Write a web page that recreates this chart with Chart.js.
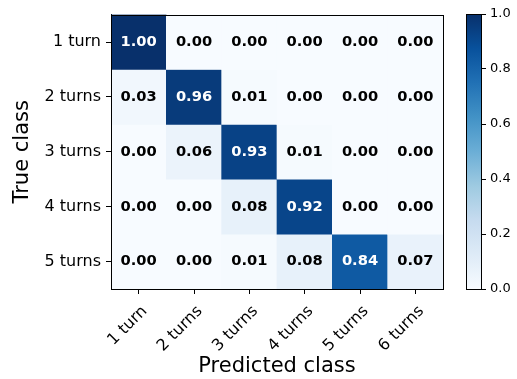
<!DOCTYPE html>
<html>
<head>
<meta charset="utf-8">
<script src="https://cdn.jsdelivr.net/npm/chart.js@4.4.0/dist/chart.umd.min.js"></script>
<style>
  body { margin: 0; background: #fff; }
  #wrap { position: relative; width: 517px; height: 379px; }
  #main { position: absolute; left: 0; top: 0; }
  #cbar { position: absolute; left: 446px; top: 0; }
</style>
</head>
<body>
<div id="wrap">
  <canvas id="main" width="517" height="379"></canvas>
  <canvas id="cbar" width="71" height="379"></canvas>
</div>
<script>
const trueLabels = ["1 turn", "2 turns", "3 turns", "4 turns", "5 turns"];
const predLabels = ["1 turn", "2 turns", "3 turns", "4 turns", "5 turns", "6 turns"];

const row1 = [1.00, 0.00, 0.00, 0.00, 0.00, 0.00];
const row2 = [0.03, 0.96, 0.01, 0.00, 0.00, 0.00];
const row3 = [0.00, 0.06, 0.93, 0.01, 0.00, 0.00];
const row4 = [0.00, 0.00, 0.08, 0.92, 0.00, 0.00];
const row5 = [0.00, 0.00, 0.01, 0.08, 0.84, 0.07];
const rows = [row1, row2, row3, row4, row5];

const colorbarTicks = [0, 0.2, 0.4, 0.6, 0.8, 1.0];

// matplotlib "Blues"
const bluesStops = ["#f7fbff", "#deebf7", "#c6dbef", "#9ecae1", "#6baed6", "#4292c6", "#2171b5", "#08519c", "#08306b"];

const hexToRgb = (h) => [1, 3, 5].map((i) => parseInt(h.slice(i, i + 2), 16));

const blues = (v) => {
    const t = Math.max(0, Math.min(1, v)) * (bluesStops.length - 1);
    const i = Math.min(Math.floor(t), bluesStops.length - 2);
    const f = t - i;
    const a = hexToRgb(bluesStops[i]);
    const b = hexToRgb(bluesStops[i + 1]);
    const c = a.map((x, k) => Math.round(x + (b[k] - x) * f));
    return `rgb(${c[0]}, ${c[1]}, ${c[2]})`;
};

const FONT = "'DejaVu Sans', sans-serif";

const cellText = {
    id: "cellText",
    afterDatasetsDraw(chart) {
        const { ctx, scales: { x, y } } = chart;
        ctx.save();
        ctx.font = `bold 14.7px ${FONT}`;
        ctx.textAlign = "center";
        ctx.textBaseline = "middle";
        rows.forEach((row, r) => {
            row.forEach((v, c) => {
                ctx.fillStyle = v > 0.5 ? "#fff" : "#000";
                ctx.fillText(v.toFixed(2), x.getPixelForValue(c), y.getPixelForValue(r + 0.5));
            });
        });
        ctx.restore();
    },
    afterDraw(chart) {
        const { ctx, chartArea: a } = chart;
        ctx.save();
        ctx.strokeStyle = "#000";
        ctx.lineWidth = 1;
        ctx.strokeRect(Math.round(a.left) + 0.5, Math.round(a.top) + 0.5, Math.round(a.right - a.left), Math.round(a.bottom - a.top));
        ctx.restore();
    }
};

new Chart(document.getElementById("main"), {
    type: "bar",
    data: {
        labels: predLabels,
        datasets: rows.map((row, r) => ({
            label: trueLabels[r],
            data: row.map(() => [r, r + 1]),
            backgroundColor: row.map(blues),
            borderWidth: 0,
            grouped: false,
            barPercentage: 1,
            categoryPercentage: 1,
        })),
    },
    options: {
        responsive: false,
        animation: false,
        devicePixelRatio: 1,
        layout: { padding: { left: 0, top: 14, right: 74, bottom: 0 } },
        plugins: { legend: { display: false }, tooltip: { enabled: false } },
        scales: {
            x: {
                grid: { drawOnChartArea: false, drawTicks: true, tickLength: 5, color: "#000", offset: false },
                border: { display: true, color: "#000" },
                ticks: { color: "#000", font: { family: FONT, size: 16 }, minRotation: 45, maxRotation: 45, autoSkip: false, padding: 8, labelOffset: 6 },
                title: { display: true, text: "Predicted class", color: "#000", font: { family: FONT, size: 21 }, padding: { top: 0, bottom: 0 } },
                afterFit: (scale) => { scale.height = 90; },
            },
            y: {
                type: "linear",
                min: 0,
                max: 5,
                reverse: true,
                grid: { drawOnChartArea: false, drawTicks: true, tickLength: 5, color: "#000" },
                border: { display: true, color: "#000" },
                afterBuildTicks: (scale) => {
                    scale.ticks = trueLabels.map((_, i) => ({ value: i + 0.5 }));
                },
                ticks: {
                    color: "#000",
                    font: { family: FONT, size: 16 },
                    padding: 5,
                    callback: (v) => trueLabels[Math.floor(v)],
                },
                title: { display: true, text: "True class", color: "#000", font: { family: FONT, size: 21 }, padding: { top: 10, bottom: 0 } },
                afterFit: (scale) => { scale.width = 111; },
            },
        },
    },
    plugins: [cellText],
});

// colorbar
new Chart(document.getElementById("cbar"), {
    type: "bar",
    data: {
        labels: [""],
        datasets: [{
            data: [[0, 1]],
            backgroundColor: (c) => {
                const area = c.chart.chartArea;
                if (!area) return bluesStops[4];
                const g = c.chart.ctx.createLinearGradient(0, area.bottom, 0, area.top);
                bluesStops.forEach((col, i) => g.addColorStop(i / (bluesStops.length - 1), col));
                return g;
            },
            borderWidth: 0,
            barPercentage: 1,
            categoryPercentage: 1,
        }],
    },
    options: {
        responsive: false,
        animation: false,
        devicePixelRatio: 1,
        layout: { padding: { left: 20, top: 14, right: 0, bottom: 90 } },
        plugins: { legend: { display: false }, tooltip: { enabled: false } },
        scales: {
            x: { display: false },
            y: {
                position: "right",
                min: 0,
                max: 1,
                grid: { drawOnChartArea: false, drawTicks: true, tickLength: 5, color: "#000" },
                border: { display: true, color: "#000" },
                afterBuildTicks: (scale) => {
                    scale.ticks = colorbarTicks.map((v) => ({ value: v }));
                },
                ticks: { color: "#000", font: { family: FONT, size: 13 }, padding: 4, callback: (v) => v.toFixed(1) },
                afterFit: (scale) => { scale.width = 36; },
            },
        },
    },
    plugins: [{
        id: "outline",
        afterDraw(chart) {
            const { ctx, chartArea: a } = chart;
            ctx.save();
            ctx.strokeStyle = "#000";
            ctx.lineWidth = 1;
            ctx.strokeRect(Math.round(a.left) + 0.5, Math.round(a.top) + 0.5, Math.round(a.right - a.left), Math.round(a.bottom - a.top));
            ctx.restore();
        }
    }],
});
</script>
</body>
</html>
